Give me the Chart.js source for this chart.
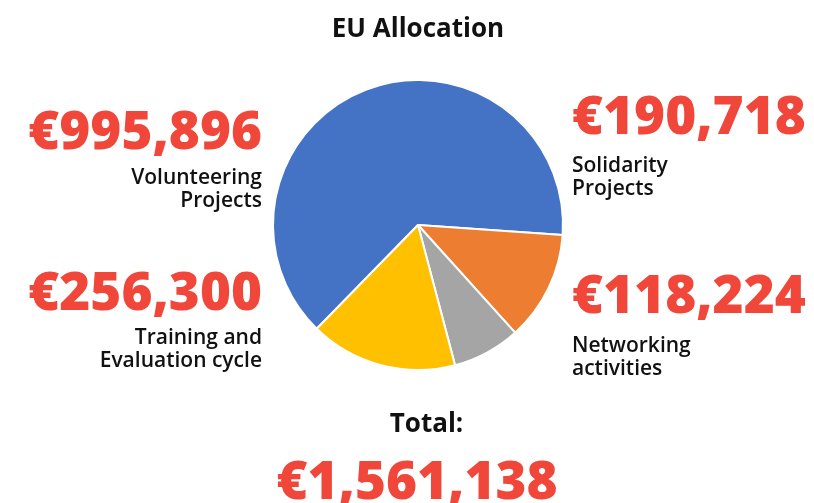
<!DOCTYPE html>
<html>
<head>
<meta charset="utf-8">
<script src="https://cdn.jsdelivr.net/npm/chart.js@4"></script>
<style>
  html, body { margin: 0; padding: 0; background: #fff; }
  #wrap { position: relative; width: 814px; height: 503px; overflow: hidden; font-family: "Open Sans", "Noto Sans", sans-serif; }
  canvas { position: absolute; left: 0; top: 0; }
  .t { position: absolute; white-space: nowrap; }
  .num { color: #F0473A; font-weight: 800; font-size: 53px; line-height: 60px; }
  .lab { color: #111; font-weight: 600; font-size: 21px; line-height: 23px; }
  .r { text-align: right; }
  .l { text-align: left; }
</style>
</head>
<body>
<div id="wrap">
  <canvas id="c" width="814" height="503"></canvas>
</div>
<script>
const title = "EU Allocation";
const categories = ["Volunteering\nProjects", "Solidarity\nProjects", "Networking\nactivities", "Training and\nEvaluation cycle"];
const values = [995896, 190718, 118224, 256300];
const colors = ["#4472C4", "#ED7D31", "#A5A5A5", "#FFC000"];
const totalLabel = "Total:";

const fmt = v => "\u20AC" + v.toLocaleString("en-US");
const total = values.reduce((a, b) => a + b, 0);

// label placement (side, anchor x, number top, label top)
const place = [
  { side: "r", x: 262, numTop: 99,  labTop: 165 },
  { side: "l", x: 572, numTop: 84,  labTop: 153 },
  { side: "l", x: 572, numTop: 263, labTop: 333 },
  { side: "r", x: 262, numTop: 260, labTop: 325 }
];

const wrap = document.getElementById("wrap");
function addDiv(cls, text, style) {
  const d = document.createElement("div");
  d.className = "t " + cls;
  d.textContent = text;
  Object.assign(d.style, style);
  wrap.appendChild(d);
  return d;
}

// title
addDiv("", title, { left: "0px", width: "836px", top: "10px", textAlign: "center", fontWeight: "700", fontSize: "26px", lineHeight: "34px", color: "#111" });

values.forEach((v, i) => {
  const p = place[i];
  const pos = p.side === "r" ? { right: (814 - p.x) + "px" } : { left: p.x + "px" };
  addDiv("num " + p.side, fmt(v), Object.assign({ top: p.numTop + "px" }, pos));
  const lines = categories[i].split("\n");
  lines.forEach((ln, k) => {
    addDiv("lab " + p.side, ln, Object.assign({ top: (p.labTop + k * 23) + "px" }, pos));
  });
});

addDiv("", totalLabel, { left: "0px", width: "853px", top: "405px", textAlign: "center", fontWeight: "700", fontSize: "26px", lineHeight: "34px", color: "#111" });
addDiv("num", fmt(total), { left: "0px", width: "834px", top: "449px", textAlign: "center" });

new Chart(document.getElementById("c"), {
  type: "pie",
  data: {
    labels: categories.map(c => c.replace("\n", " ")),
    datasets: [{
      data: values,
      backgroundColor: colors,
      borderColor: "#ffffff",
      borderWidth: 2
    }]
  },
  options: {
    responsive: false,
    animation: false,
    rotation: -135.7,
    layout: { padding: { left: 272, right: 250, top: 79, bottom: 132 } },
    plugins: { legend: { display: false }, tooltip: { enabled: false }, title: { display: false } }
  }
});
</script>
</body>
</html>
